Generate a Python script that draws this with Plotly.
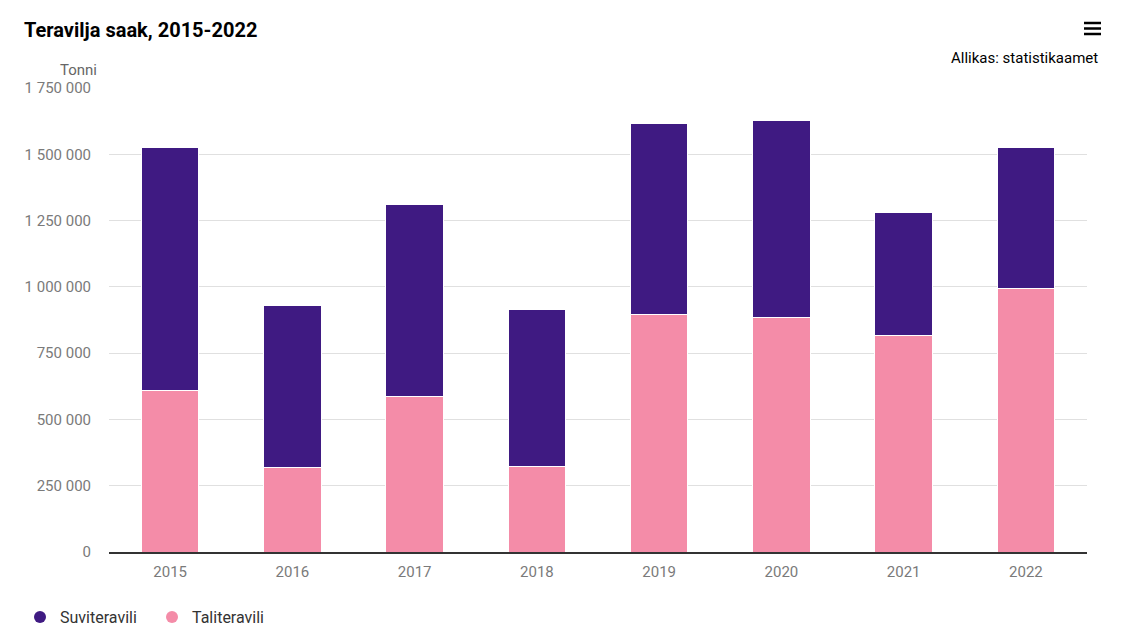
import plotly.graph_objects as go

years = ["2015", "2016", "2017", "2018", "2019", "2020", "2021", "2022"]
taliteravili = [611000, 317000, 585000, 321000, 894000, 886000, 818000, 992000]
suviteravili_total = [1527000, 931000, 1309000, 916000, 1618000, 1629000, 1282000, 1524000]
suviteravili = [t - w for t, w in zip(suviteravili_total, taliteravili)]
tick_vals = [0, 250000, 500000, 750000, 1000000, 1250000, 1500000, 1750000]

PURPLE = "#3f1a82"
PINK = "#f48ca8"
TICK = "#7a7a7a"

W, H = 1117, 622
L, R, T, B = 101, 38, 80, 78
PW, PH = W - L - R, H - T - B

fig = go.Figure()
fig.add_bar(x=years, y=taliteravili, name="Taliteravili", marker=dict(color=PINK, line=dict(color="white", width=1)), showlegend=False)
fig.add_bar(x=years, y=suviteravili, name="Suviteravili", marker=dict(color=PURPLE, line=dict(color="white", width=1)), showlegend=False)
# legend entries as dots
fig.add_scatter(x=[None], y=[None], mode="markers", name="Suviteravili", marker=dict(color=PURPLE, size=11, symbol="circle"))
fig.add_scatter(x=[None], y=[None], mode="markers", name="Taliteravili", marker=dict(color=PINK, size=11, symbol="circle"))

fig.update_layout(
    width=W, height=H,
    barmode="stack", bargap=0.53,
    plot_bgcolor="white", paper_bgcolor="white",
    margin=dict(l=L, r=R, t=T, b=B),
    font=dict(family="Roboto", color=TICK, size=15),
    separators=", ",
    title=dict(text="<b>Teravilja saak, 2015-2022</b>", x=16/W, xanchor="left", y=1-22/H, yanchor="middle",
               font=dict(family="Roboto", size=20, color="#000000")),
    legend=dict(orientation="h", x=12/W, xref="container", y=1-609/H, yref="container", yanchor="middle", xanchor="left",
                font=dict(size=16, color="#333333"), itemsizing="constant", traceorder="normal",
                entrywidth=87, entrywidthmode="pixels"),
    xaxis=dict(showgrid=False, showline=True, linecolor="#333333", linewidth=1.5, ticks="", ticklabelstandoff=5,
               tickfont=dict(size=15, color=TICK)),
    yaxis=dict(range=[0, 1750000], tickvals=tick_vals, tickformat=",d", showgrid=True, gridcolor="#e0e0e0", gridwidth=1,
               zeroline=False, ticks="", ticklabelstandoff=17, tickfont=dict(size=15, color=TICK)),
    annotations=[
        dict(text="Tonni", xref="paper", yref="paper", x=-10/PW, y=1+18/PH, xanchor="right", yanchor="middle", showarrow=False,
             font=dict(size=15, color="#666666")),
        dict(text="Allikas: statistikaamet", xref="paper", yref="paper", x=1+13/PW, y=1+30/PH, xanchor="right", yanchor="middle",
             showarrow=False, font=dict(size=15, color="#000000")),
    ],
    shapes=[
        dict(type="line", xref="paper", yref="paper", x0=(1076-L)/PW, x1=(1093-L)/PW, y0=(H-B-y)/PH, y1=(H-B-y)/PH,
             line=dict(color="#000000", width=2.5)) for y in (15, 20.5, 26)
    ],
)

fig.write_html("out.html")
